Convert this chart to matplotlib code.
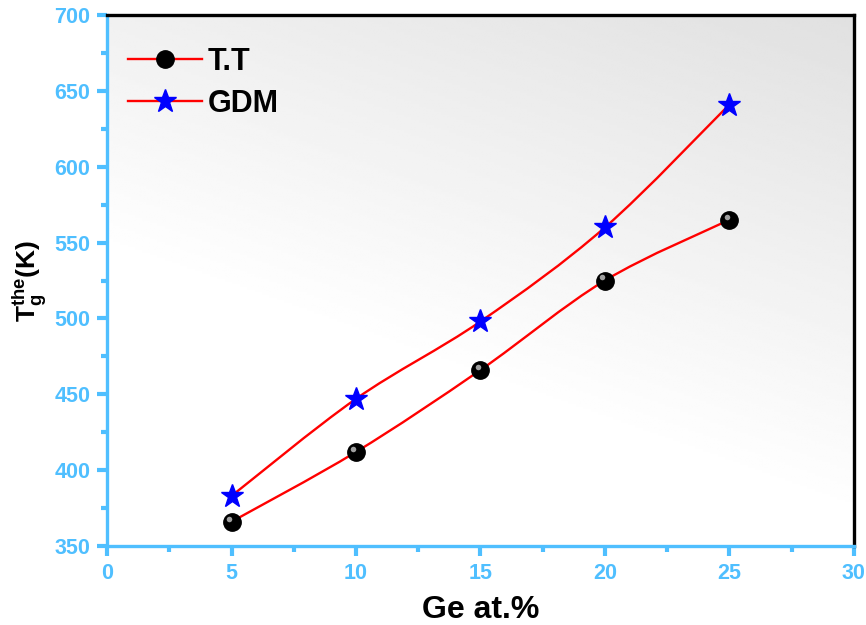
import numpy as np
import matplotlib
matplotlib.use("Agg")
import matplotlib.pyplot as plt
from matplotlib.path import Path
from matplotlib.patches import PathPatch
from matplotlib.ticker import MultipleLocator

plt.rcParams['font.family'] = ['Liberation Sans', 'DejaVu Sans']
plt.rcParams['mathtext.fontset'] = 'custom'
plt.rcParams['mathtext.bf'] = 'Liberation Sans:bold'
plt.rcParams['mathtext.rm'] = 'Liberation Sans:bold'
plt.rcParams['mathtext.it'] = 'Liberation Sans:bold'

# data
ge = [5, 10, 15, 20, 25]
tt = [366, 412, 466, 525, 565]
gdm = [383, 447, 498, 560, 641]

blue = '#4FBFFF'


def smooth_path(x, y):
  # Catmull-Rom style bezier through the data points
  x = np.asarray(x, float)
  y = np.asarray(y, float)
  verts = [(x[0], y[0])]
  codes = [Path.MOVETO]
  n = len(x)
  for i in range(n - 1):
    x0, y0 = (x[i - 1], y[i - 1]) if i > 0 else (x[i], y[i])
    x3, y3 = (x[i + 2], y[i + 2]) if i + 2 < n else (x[i + 1], y[i + 1])
    c1 = (x[i] + (x[i + 1] - x0) / 6, y[i] + (y[i + 1] - y0) / 6)
    c2 = (x[i + 1] - (x3 - x[i]) / 6, y[i + 1] - (y3 - y[i]) / 6)
    verts += [c1, c2, (x[i + 1], y[i + 1])]
    codes += [Path.CURVE4] * 3
  return Path(verts, codes)


fig = plt.figure(figsize=(8.66, 6.25), dpi=100)
ax = fig.add_axes([0.1236, 0.1264, 0.8624, 0.8496])

# background gradient, white at bottom-left to light grey at top-right
gx, gy = np.meshgrid(np.linspace(0, 1, 200), np.linspace(0, 1, 200))
g = np.clip((gx * 0.5 + gy * 1.0 - 0.55) / 0.95, 0, 1)
ax.imshow(1 - 0.12 * g, cmap='gray', vmin=0, vmax=1, origin='lower',
          extent=[0, 30, 350, 700], aspect='auto', zorder=0,
          interpolation='bilinear')

for yv in (tt, gdm):
  ax.add_patch(PathPatch(smooth_path(ge, yv), fill=False, edgecolor='red',
                         lw=1.7, zorder=2, transform=ax.transData))

ax.plot(ge, tt, 'o', color='black', ms=12.5, zorder=3)
ax.plot(np.array(ge) - 0.1, np.array(tt) + 2.0, 'o', color='#a0a0a0', ms=4,
        mec='none', zorder=4)
ax.plot(ge, gdm, '*', color='blue', ms=17, mec='blue', zorder=3)

# legend handles
h1, = ax.plot([], [], '-o', color='red', mfc='black', mec='black', ms=12.5, lw=1.7)
h2, = ax.plot([], [], '-*', color='red', mfc='blue', mec='blue', ms=17, lw=1.7)
ax.legend([h1, h2], ['T.T', 'GDM'], loc='upper left', frameon=False,
          bbox_to_anchor=(0.004, 0.975),
          prop={'weight': 'bold', 'size': 22}, handlelength=2.4,
          borderaxespad=0.2, labelspacing=0.4, handletextpad=0.2)

ax.set_xlim(0, 30)
ax.set_ylim(350, 700)
ax.xaxis.set_major_locator(MultipleLocator(5))
ax.xaxis.set_minor_locator(MultipleLocator(2.5))
ax.yaxis.set_major_locator(MultipleLocator(50))
ax.yaxis.set_minor_locator(MultipleLocator(25))

ax.spines['left'].set_color(blue)
ax.spines['bottom'].set_color(blue)
for s in ax.spines.values():
  s.set_linewidth(2.4)
ax.tick_params(which='major', direction='out', length=7, width=3, colors=blue,
               labelsize=15.5, pad=5)
ax.tick_params(which='minor', direction='out', length=4, width=3, colors=blue)
ax.tick_params(top=False, right=False, which='both')
for lab in ax.get_xticklabels() + ax.get_yticklabels():
  lab.set_fontweight('bold')

ax.set_xlabel('Ge at.%', fontsize=23, fontweight='bold', labelpad=8)
ax.set_ylabel(r'$\mathbf{T_g^{the}}$(K)', fontsize=19, fontweight='bold',
              labelpad=4)

plt.savefig('out.png', dpi=100)
